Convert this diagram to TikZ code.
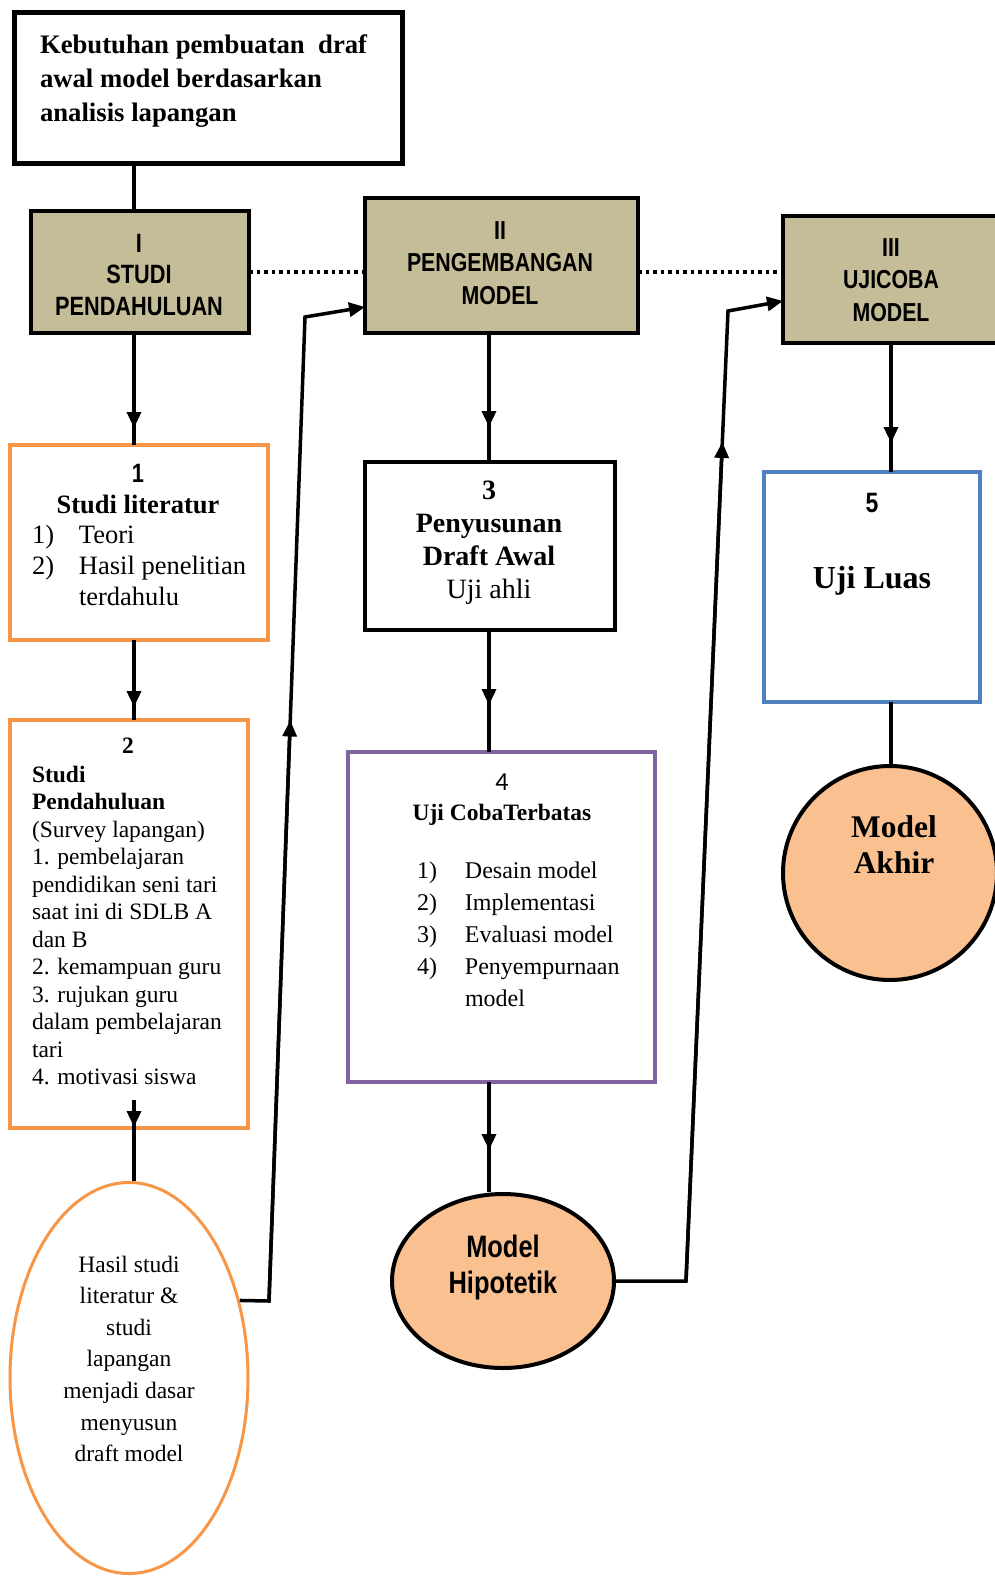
\documentclass[tikz,border=0pt]{standalone}
\usepackage{fontspec}
\setmainfont{Liberation Serif}
\newfontfamily\narrowsans[FakeStretch=0.82]{Liberation Sans}
\newfontfamily\calib{Carlito}
\usetikzlibrary{arrows.meta,shapes.geometric,decorations.markings,calc}
\definecolor{tanfill}{HTML}{C4BD97}
\definecolor{orng}{HTML}{F79646}
\definecolor{purp}{HTML}{8064A2}
\definecolor{blu}{HTML}{4F81BD}
\definecolor{peach}{HTML}{FAC090}
\tikzset{
  boxshape/.style={draw, rectangle, inner sep=0pt, outer sep=0pt},
  headbox/.style={boxshape, line width=4pt, fill=tanfill},
  conn/.style={line width=3.5pt},
  tip/.style={-{Triangle[length=16pt,width=14pt]}},
  arrowat/.style={postaction={decorate}, decoration={markings, mark=at position #1 with {\arrow{Triangle[length=16pt,width=14pt]}}}},
  dots/.style={line width=3.5pt, dash pattern=on 3.5pt off 4pt},
  txt/.style={inner sep=0pt, outer sep=0pt},
}
\begin{document}
\begin{tikzpicture}[x=1pt,y=-1pt]
\useasboundingbox (0,0) rectangle (995,1576);
\clip (0,0) rectangle (995,1576);
% column coordinates
\coordinate (colA) at (134,0);
\coordinate (colB) at (489,0);
\coordinate (colC) at (891,0);
% boxes
\node[boxshape, line width=5pt, minimum width=388pt, minimum height=150pt] (need) at (208,88) {};
\node[headbox, minimum width=218pt, minimum height=122pt] (bI) at (140,272) {};
\node[headbox, minimum width=273pt, minimum height=135pt] (bII) at (501.5,265.5) {};
\node[headbox, minimum width=216pt, minimum height=127pt] (bIII) at (891,279.5) {};
\node[boxshape, draw=orng, line width=3.5pt, minimum width=258pt, minimum height=195pt] (b1) at (139,542.5) {};
\node[boxshape, draw=orng, line width=3.5pt, minimum width=238pt, minimum height=408pt] (b2) at (129,924) {};
\node[boxshape, line width=4pt, minimum width=250pt, minimum height=168pt] (b3) at (490,546) {};
\node[boxshape, draw=purp, line width=3.5pt, minimum width=307pt, minimum height=330pt] (b4) at (501.5,917) {};
\node[boxshape, draw=blu, line width=3.5pt, minimum width=216pt, minimum height=230pt] (b5) at (872,587) {};
\node[draw=orng, ellipse, line width=3pt, inner sep=0pt, minimum width=238pt, minimum height=391pt] (ell) at (129,1378) {};
\node[draw, ellipse, line width=4pt, fill=peach, inner sep=0pt, minimum width=222pt, minimum height=174pt] (hip) at (503,1281) {};
\node[draw, circle, line width=4pt, fill=peach, inner sep=0pt, minimum size=214pt] (akhir) at (890,873) {};
% texts
\node[txt, anchor=north west, align=left, font=\fontsize{26.7}{34.5}\selectfont\bfseries] (tneed) at (40,28.85)
  {\strut Kebutuhan pembuatan\ \ draf\\awal model berdasarkan\\analisis lapangan};
\node[txt, anchor=north, align=center, font=\narrowsans\bfseries\fontsize{26.5}{31.5}\selectfont] (tI) at (139,229.95)
  {\strut I\\STUDI\\PENDAHULUAN};
\node[txt, anchor=north, align=center, font=\narrowsans\bfseries\fontsize{26}{32.5}\selectfont] (tII) at (500,216.25)
  {\strut II\\PENGEMBANGAN\\MODEL};
\node[txt, anchor=north, align=center, font=\narrowsans\bfseries\fontsize{26}{32.5}\selectfont] (tIII) at (891,233.25)
  {\strut III\\UJICOBA\\MODEL};
\node[txt, anchor=north, align=center, font=\fontsize{26.5}{31}\selectfont\bfseries] (t1h) at (138,460.3)
  {\strut{\narrowsans 1}\\Studi literatur};
\node[txt, anchor=north west, align=left, font=\fontsize{26.5}{31}\selectfont] (t1l) at (32,521.3)
  {\strut\makebox[47pt][l]{1)}Teori\\\makebox[47pt][l]{2)}Hasil penelitian\\\hspace*{47pt}terdahulu};
\node[txt, anchor=base, font=\fontsize{23.5}{27.5}\selectfont\bfseries] (t2n) at (128,753) {2};
\node[txt, anchor=north west, align=left, font=\fontsize{23.5}{27.5}\selectfont] (t2) at (32,762.75)
  {\strut\textbf{Studi}\\\textbf{Pendahuluan}\\(Survey lapangan)\\1. pembelajaran\\pendidikan seni tari\\saat ini di SDLB A\\dan B\\2. kemampuan guru\\3. rujukan guru\\dalam pembelajaran\\tari\\4. motivasi siswa};
\node[txt, anchor=north, align=center, font=\fontsize{28}{32.7}\selectfont] (t3) at (489,477.1)
  {\strut\textbf{3}\\\textbf{Penyusunan}\\\textbf{Draft Awal}\\Uji ahli};
\node[txt, anchor=base, font=\calib\fontsize{26}{30}\selectfont] (t4n) at (502,790) {4};
\node[txt, anchor=base, font=\fontsize{23.5}{28}\selectfont\bfseries] (t4h) at (502,820) {Uji CobaTerbatas};
\node[txt, anchor=north west, align=left, font=\fontsize{24}{32}\selectfont] (t4l) at (417,855.6)
  {\strut\makebox[48pt][l]{1)}Desain model\\\makebox[48pt][l]{2)}Implementasi\\\makebox[48pt][l]{3)}Evaluasi model\\\makebox[48pt][l]{4)}Penyempurnaan\\\hspace*{48pt}model};
\node[txt, anchor=base, font=\narrowsans\bfseries\fontsize{28}{32}\selectfont] (t5n) at (872,512) {5};
\node[txt, anchor=base, font=\fontsize{32}{36}\selectfont\bfseries] (t5) at (872,588) {Uji Luas};
\node[txt, anchor=north, align=center, font=\fontsize{31.5}{36}\selectfont\bfseries] (takhir) at (894,811.8)
  {\strut Model\\Akhir};
\node[txt, anchor=north, align=center, font=\narrowsans\bfseries\fontsize{31}{36}\selectfont] (thip) at (503,1231.8)
  {\strut Model\\Hipotetik};
\node[txt, anchor=north, align=center, font=\fontsize{23.5}{31.6}\selectfont] (tell) at (129,1249.9)
  {\strut Hasil studi\\literatur \&\\studi\\lapangan\\menjadi dasar\\menyusun\\draft model};
% dotted links
\draw[dots] (bI.east) -- (bI.east -| bII.west);
\draw[dots] (bI.east -| bII.east) -- (bI.east -| bIII.west);
% vertical connectors
\draw[conn] (colA |- need.south) -- (colA |- bI.north);
\draw[conn, arrowat=-17pt] (colA |- bI.south) -- (colA |- b1.north);
\draw[conn, arrowat=-13pt] (colA |- b1.south) -- (colA |- b2.north);
\coordinate (b2in) at (134,1100);
\draw[conn, arrowat=27pt] (b2in) -- (colA |- ell.north);
\draw[conn, arrowat=-35pt] (colB |- bII.south) -- (colB |- b3.north);
\draw[conn, arrowat=-47pt] (colB |- b3.south) -- (colB |- b4.north);
\draw[conn, arrowat=-42pt] (colB |- b4.south) -- (colB |- hip.north);
\draw[conn, arrowat=-29pt] (colC |- bIII.south) -- (colC |- b5.north);
\draw[conn] (colC |- b5.south) -- (colC |- akhir.north);
% long connectors
\coordinate (k1) at (269,1301);
\coordinate (k2) at (305,317);
\coordinate (k3) at (0,307);
\draw[conn, tip] (ell.35) -- (k1) -- (k2) -- (bII.west |- k3);
\draw[conn, tip] (k1) -- ($(k1)!0.59!(k2)$);
\coordinate (k4) at (686,1281);
\coordinate (k5) at (728,311);
\coordinate (k6) at (0,301);
\draw[conn, tip] (hip.east) -- (k4) -- (k5) -- (bIII.west |- k6);
\draw[conn, tip] (k4) -- ($(k4)!0.865!(k5)$);
\end{tikzpicture}
\end{document}
